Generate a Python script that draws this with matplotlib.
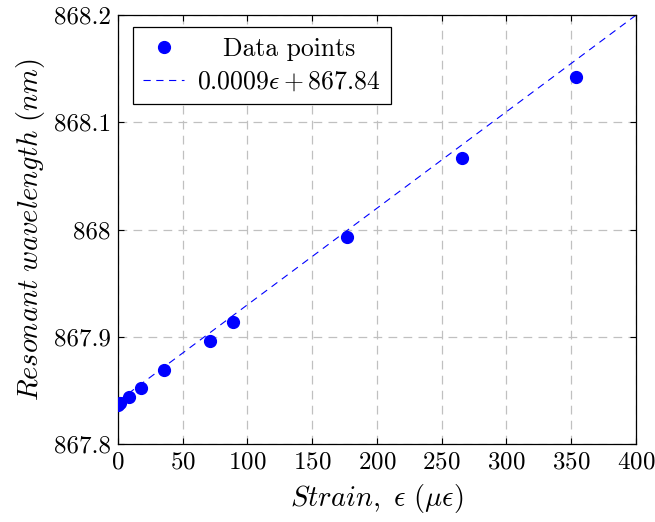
import matplotlib
matplotlib.use("Agg")
import matplotlib.pyplot as plt
from matplotlib.transforms import ScaledTranslation

plt.rcParams['font.family'] = 'serif'
plt.rcParams['font.serif'] = ['cmr10']
plt.rcParams['mathtext.fontset'] = 'cm'
plt.rcParams['axes.formatter.use_mathtext'] = True

# measured strain vs resonant wavelength
strain = [0, 2, 8.7, 17.5, 35.3, 70.8, 88.8, 177, 265.4, 353.5]
wavelength = [867.837, 867.838, 867.844, 867.852, 867.869, 867.896,
              867.914, 867.993, 868.067, 868.142]

# linear fit
slope = 0.0009
intercept = 867.84
fit_x = [0, 400]

x_ticks = [0, 50, 100, 150, 200, 250, 300, 350, 400]
y_ticks = [867.8, 867.9, 868.0, 868.1, 868.2]
y_tick_labels = ['867.8', '867.9', '868', '868.1', '868.2']

fig = plt.figure(figsize=(6.55, 5.22), dpi=100)
ax = fig.add_axes([0.180, 0.149, 0.791, 0.822])

ax.plot(strain, wavelength, 'o', color='blue', markersize=8.5, label='Data points', zorder=3)
fit_y = [slope * x + intercept for x in fit_x]
ax.plot(fit_x, fit_y, '--', color='blue', linewidth=0.8, dashes=(6.5, 5),
        label=r'$0.0009\epsilon + 867.84$', zorder=2)

ax.set_xlim(0, 400)
ax.set_ylim(867.8, 868.2)
ax.set_xticks(x_ticks)
ax.set_yticks(y_ticks)
ax.set_yticklabels(y_tick_labels)
ax.tick_params(direction='in', top=True, right=True, labelsize=18, length=4, pad=5)
ax.grid(True, color='#c0c0c0', linestyle=(0, (7, 5)), linewidth=0.9)
ax.set_axisbelow(True)
for s in ax.spines.values():
    s.set_linewidth(0.9)

ax.set_xlabel(r'$Strain,\ \epsilon\ (\mu\epsilon)$', fontsize=20.5, labelpad=6)
ax.set_ylabel(r'$Resonant\ wavelength\ (nm)$', fontsize=20.5, labelpad=5)

leg = ax.legend(loc='upper left', fontsize=18.5, fancybox=False, framealpha=1,
                edgecolor='black', handlelength=1.6, handletextpad=0.5,
                borderpad=0.4, labelspacing=0.35, borderaxespad=0,
                bbox_to_anchor=(0.029, 0.972))
leg.get_frame().set_linewidth(0.9)

# centre the shorter legend entry like pgfplots does
fig.canvas.draw()
r = fig.canvas.get_renderer()
texts = leg.get_texts()
w0 = texts[0].get_window_extent(r).width
w1 = texts[1].get_window_extent(r).width
dx = (w1 - w0) / 2 / fig.dpi
texts[0].set_transform(texts[0].get_transform() + ScaledTranslation(dx, 0, fig.dpi_scale_trans))

fig.savefig('out.png', dpi=100)
